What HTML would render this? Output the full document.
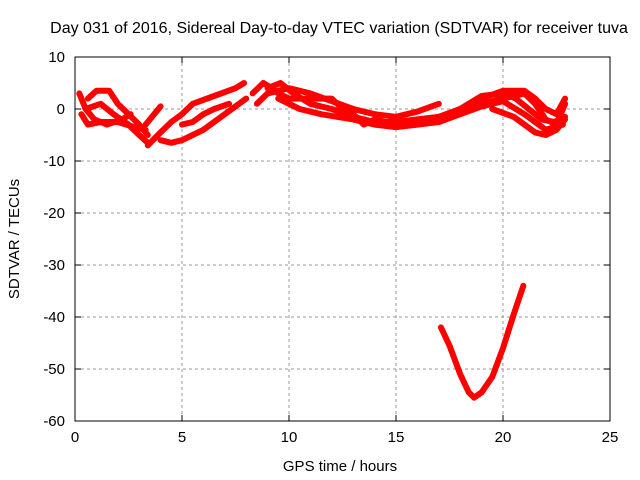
<!DOCTYPE html>
<html><head><meta charset="utf-8"><style>
body{margin:0;background:#fff;}
svg{display:block;font-family:"Liberation Sans",sans-serif;}
</style></head><body>
<svg id="chart" width="640" height="480">
<text x="339" y="33" font-size="16" text-anchor="middle">Day 031 of 2016, Sidereal Day-to-day VTEC variation (SDTVAR) for receiver tuva</text>
<text x="340" y="471" font-size="15" text-anchor="middle">GPS time / hours</text>
<text transform="translate(19,239) rotate(-90)" font-size="15" text-anchor="middle">SDTVAR / TECUs</text>
<g id="grid"></g><g id="axes"></g><g id="series"></g>
<rect x="75" y="57" width="535" height="364" fill="none" stroke="#000" stroke-width="1"/>
</svg>
<script>
const xTicks=[0,5,10,15,20,25];
const yTicks=[10,0,-10,-20,-30,-40,-50,-60];
const s1=[[0.2,3],[0.5,0],[0.9,-2],[1.5,-3],[2.2,-2],[2.6,-1]];
const s2=[[0.3,-1],[0.6,-3],[1.2,-2.5],[2,-2.5],[2.8,-3.5],[3.3,-4]];
const s3=[[0.6,2],[1,3.5],[1.6,3.5],[2,1],[2.5,-1],[3,-3],[3.4,-5]];
const s4=[[0.5,0],[1.2,1],[1.8,-1],[2.5,-3],[3,-5],[3.4,-6.5]];
const s5=[[3.4,-7],[4,-4.5],[4.5,-2.5],[5,-1],[5.5,1],[6.5,2.5],[7.5,4],[7.9,5]];
const s6=[[3.3,-3],[3.7,-1],[4,0.5]];
const s7=[[4,-6],[4.5,-6.5],[5,-6],[5.5,-5],[6,-4],[7,-1],[8,2]];
const s8=[[5,-3],[5.5,-2.5],[6,-1],[6.5,0],[7.2,1]];
const s9=[[8.3,3],[8.8,5],[9.2,4],[9.5,3],[10,2],[11,2],[12,2],[12.5,0],[13,-1],[13.5,-3],[14,-2],[15,-3],[16,-2.5],[17,-2],[18,-0.5],[19,1],[20,2],[21,3],[21.5,1],[22,-2],[22.5,-3],[22.9,1]];
const s10=[[8.5,1],[9,3],[10,4],[11,3],[12,1.5],[13,0],[14,-1],[15,-1.5],[16,-0.5],[17,1]];
const s11=[[9.5,2],[10.5,0],[11.5,-1],[13,-2],[14,-3],[15,-3.5],[16,-3],[17,-2.5],[18,-1],[19,0.5],[20,1.5],[21,-1],[22,-4],[22.8,-3]];
const s12=[[18,0],[19,2],[20,3.5],[21,3.5],[21.5,2],[22,0],[22.5,-1],[22.9,2]];
const s13=[[19.5,0],[20.5,-1.5],[21,-3],[21.5,-4.5],[22,-5],[22.5,-4],[22.9,-2]];
const s15=[[9,4],[9.6,5],[10.2,3],[11,1],[12,0],[13,-1.5],[14,-2.5],[15,-2.5],[16,-2],[17,-1.5],[18,0],[19,2.5],[20,3],[20.6,2],[21.2,0],[21.8,-2],[22.4,-2.5],[22.9,-1.5]];
const s14=[[17.1,-42],[17.5,-45.5],[18,-51],[18.4,-54.5],[18.65,-55.5],[19,-54.5],[19.5,-51.5],[20,-46],[20.5,-39.5],[20.95,-34]];
const allSeries=[s1,s2,s3,s4,s5,s6,s7,s8,s9,s10,s11,s12,s13,s15,s14];
const X0=75,X1=610,Y0=57,Y1=421;
const xs=h=>X0+(h-0)/25*(X1-X0);
const ys=v=>Y0+(10-v)/70*(Y1-Y0);
const NS='http://www.w3.org/2000/svg';
const grid=document.getElementById('grid'),axes=document.getElementById('axes'),ser=document.getElementById('series');
function mk(tag,attrs,parent){const e=document.createElementNS(NS,tag);for(const k in attrs)e.setAttribute(k,attrs[k]);parent.appendChild(e);return e;}
xTicks.forEach(t=>{const x=xs(t);
 if(t>0&&t<25){const g=mk('line',{x1:x,x2:x,y1:Y0,y2:Y1,stroke:'#999','stroke-dasharray':'3,3'},grid);
 
 }
 mk('line',{x1:x,x2:x,y1:Y1,y2:Y1-6,stroke:'#000'},axes);mk('line',{x1:x,x2:x,y1:Y0,y2:Y0+6,stroke:'#000'},axes);
 const tx=mk('text',{x:x,y:Y1+21,'font-size':15,'text-anchor':'middle'},axes);tx.textContent=t;
 
 });
yTicks.forEach(t=>{const y=ys(t);
 if(t<10&&t>-60){const g=mk('line',{x1:X0,x2:X1,y1:y,y2:y,stroke:'#999','stroke-dasharray':'3,3'},grid);
 
 }
 mk('line',{x1:X0,x2:X0+6,y1:y,y2:y,stroke:'#000'},axes);mk('line',{x1:X1,x2:X1-6,y1:y,y2:y,stroke:'#000'},axes);
 const tx=mk('text',{x:X0-10,y:y+5,'font-size':15,'text-anchor':'end'},axes);tx.textContent=t;
 
 });
allSeries.forEach((s,i)=>{
 const p=mk('polyline',{points:s.map(d=>xs(d[0])+','+ys(d[1])).join(' '),fill:'none',stroke:'#ff0000','stroke-width':6,'stroke-linejoin':'round','stroke-linecap':'round'},ser);
 
 
});
</script>
</body></html>
